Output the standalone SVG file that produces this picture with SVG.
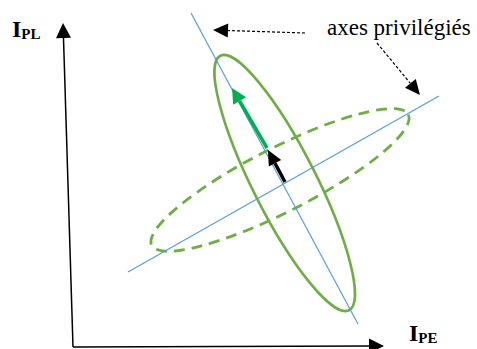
<svg xmlns="http://www.w3.org/2000/svg" width="477" height="349" viewBox="0 0 477 349">
<style>
.axis{stroke:#000;stroke-width:1.5;fill:none}
.blue{stroke:#5B9BD5;stroke-width:1.2;fill:none}
.ell{stroke:#70AD47;stroke-width:2.6;fill:none}
.dash{stroke-width:2.8;stroke-dasharray:11 7}
.dot{stroke:#000;stroke-width:1.2;stroke-dasharray:3 2;fill:none}
.lbl{font-family:"Liberation Serif","Times New Roman",serif;font-weight:bold;fill:#000}
.txt{font-family:"Liberation Serif","Times New Roman",serif;fill:#000}
</style>
<defs>
<marker id="ahB" markerUnits="userSpaceOnUse" markerWidth="15" markerHeight="14" refX="0" refY="7" orient="auto" overflow="visible"><path d="M0,0 L15,7 L0,14 z" fill="#000"/></marker>
<marker id="ahG" markerUnits="userSpaceOnUse" markerWidth="15" markerHeight="15" refX="0" refY="7.5" orient="auto" overflow="visible"><path d="M0,0 L15,7.5 L0,15 z" fill="#00B050"/></marker>
<marker id="ahA" markerUnits="userSpaceOnUse" markerWidth="15" markerHeight="15" refX="0" refY="7.5" orient="auto" overflow="visible"><path d="M0,0 L15,7.5 L0,15 z" fill="#000"/></marker>
</defs>
<g id="axes">
<line class="axis" x1="73" y1="347" x2="63.5" y2="38" marker-end="url(#ahA)"/>
<line class="axis" x1="73" y1="347" x2="369" y2="346" marker-end="url(#ahA)"/>
</g>
<g id="label-IPL"><text class="lbl" x="12" y="37" font-size="24">I<tspan font-size="15" dy="2">PL</tspan></text></g>
<g id="label-IPE"><text class="lbl" x="409" y="341" font-size="24">I<tspan font-size="15" dy="2">PE</tspan></text></g>
<g id="ellipse-solid"><ellipse class="ell" cx="284.7" cy="183" rx="142.6" ry="31.7" transform="rotate(63.2 284.7 183)"/></g>
<g id="ellipse-dashed"><ellipse class="ell dash" cx="280" cy="180" rx="144" ry="32" transform="rotate(-27 280 180)"/></g>
<g id="axes-privileged">
<line class="blue" x1="191" y1="13" x2="358" y2="324"/>
<line class="blue" x1="128" y1="272" x2="439" y2="96"/>
</g>
<g id="label-axes"><text class="txt" x="327" y="35" font-size="23">axes privilégiés</text></g>
<g id="connectors">
<line class="dot" x1="305" y1="33" x2="228" y2="30.5" marker-end="url(#ahB)"/>
<line class="dot" x1="377" y1="43" x2="410.4" y2="83.4" marker-end="url(#ahB)"/>
<line x1="267" y1="148" x2="239.6" y2="101" stroke="#00B050" stroke-width="3.5" marker-end="url(#ahG)"/>
<line x1="285" y1="182" x2="275" y2="163.2" stroke="#000" stroke-width="3.5" marker-end="url(#ahB)"/>
</g>
</svg>
